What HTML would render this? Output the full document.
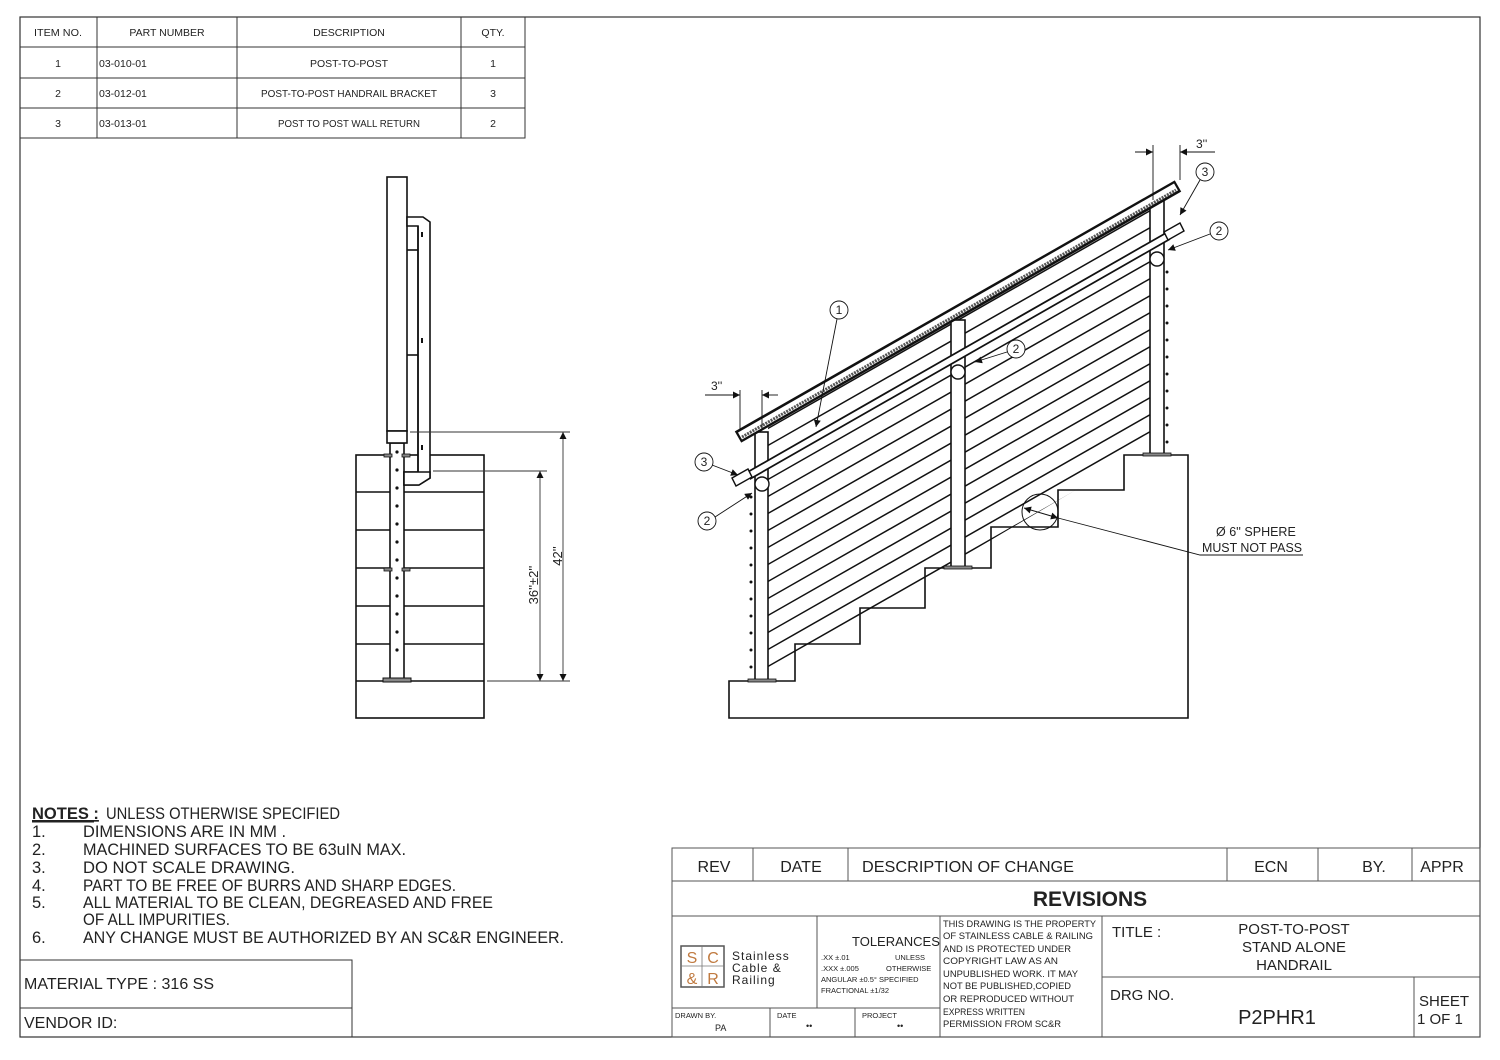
<!DOCTYPE html>
<html><head><meta charset="utf-8"><style>
html,body{margin:0;padding:0;background:#fff;}
svg{display:block;}
text{font-family:"Liberation Sans",sans-serif;fill:#222;}
</style></head><body>
<svg width="1500" height="1060" viewBox="0 0 1500 1060" xmlns="http://www.w3.org/2000/svg">
<defs>
<marker id="ar" viewBox="0 0 10 10" refX="10" refY="5" markerWidth="9" markerHeight="7" orient="auto-start-reverse" markerUnits="userSpaceOnUse"><path d="M0,0 L10,5 L0,10 z" fill="#111"/></marker>
<clipPath id="cab"><polygon points="768,418 1150,200 1150,446 768,672"/></clipPath>
</defs>
<rect x="0" y="0" width="1500" height="1060" fill="#fff"/>
<rect x="20" y="17" width="1460" height="1020" fill="none" stroke="#333" stroke-width="1.2"/>

<g stroke="#333" stroke-width="1" fill="none">
<rect x="20" y="17" width="505" height="121"/>
<line x1="20" y1="47" x2="525" y2="47"/><line x1="20" y1="78" x2="525" y2="78"/><line x1="20" y1="108" x2="525" y2="108"/>
<line x1="97" y1="17" x2="97" y2="138"/><line x1="237" y1="17" x2="237" y2="138"/><line x1="461" y1="17" x2="461" y2="138"/>
</g>
<g font-size="10.5">
<text x="58" y="36" text-anchor="middle" textLength="48" lengthAdjust="spacingAndGlyphs">ITEM NO.</text>
<text x="167" y="36" text-anchor="middle">PART NUMBER</text>
<text x="349" y="36" text-anchor="middle">DESCRIPTION</text>
<text x="493" y="36" text-anchor="middle">QTY.</text>
<text x="58" y="67" text-anchor="middle">1</text><text x="99" y="67">03-010-01</text><text x="349" y="67" text-anchor="middle">POST-TO-POST</text><text x="493" y="67" text-anchor="middle">1</text>
<text x="58" y="97" text-anchor="middle">2</text><text x="99" y="97">03-012-01</text><text x="349" y="97" text-anchor="middle" textLength="176" lengthAdjust="spacingAndGlyphs">POST-TO-POST HANDRAIL BRACKET</text><text x="493" y="97" text-anchor="middle">3</text>
<text x="58" y="127" text-anchor="middle">3</text><text x="99" y="127">03-013-01</text><text x="349" y="127" text-anchor="middle" textLength="142" lengthAdjust="spacingAndGlyphs">POST TO POST WALL RETURN</text><text x="493" y="127" text-anchor="middle">2</text>
</g>

<g stroke="#111" stroke-width="1.6" fill="#fff">
<rect x="356" y="455" width="128" height="263"/>
<line x1="356" y1="492" x2="484" y2="492"/><line x1="356" y1="530" x2="484" y2="530"/><line x1="356" y1="568" x2="484" y2="568"/><line x1="356" y1="606" x2="484" y2="606"/><line x1="356" y1="644" x2="484" y2="644"/><line x1="356" y1="681" x2="484" y2="681"/>
<rect x="390" y="443" width="14" height="238"/>
<rect x="383" y="678" width="28" height="4" fill="#888" stroke-width="1"/>
<rect x="384" y="454" width="8" height="3" fill="#888" stroke-width="0.8"/><rect x="402" y="454" width="8" height="3" fill="#888" stroke-width="0.8"/>
<rect x="384" y="568" width="8" height="3" fill="#888" stroke-width="0.8"/><rect x="402" y="568" width="8" height="3" fill="#888" stroke-width="0.8"/>
<rect x="387" y="177" width="20" height="254"/>
<rect x="387" y="431" width="20" height="12"/>
<polygon points="407,217 423,217 430,222 430,478 419,485 404,485 404,472 418,472 418,226 407,226"/>
<line x1="418" y1="226" x2="418" y2="472"/>
<line x1="407" y1="250" x2="418" y2="250"/><line x1="407" y1="355" x2="418" y2="355"/>
<polygon points="404,472 430,472 430,478 419,485 404,485"/>
</g>
<g fill="#111">
<rect x="421" y="232" width="2" height="5"/><rect x="421" y="338" width="2" height="5"/><rect x="421" y="445" width="2" height="5"/>
<circle cx="397" cy="452" r="1.6"/><circle cx="397" cy="470" r="1.6"/><circle cx="397" cy="488" r="1.6"/><circle cx="397" cy="506" r="1.6"/><circle cx="397" cy="524" r="1.6"/><circle cx="397" cy="542" r="1.6"/><circle cx="397" cy="560" r="1.6"/><circle cx="397" cy="578" r="1.6"/><circle cx="397" cy="596" r="1.6"/><circle cx="397" cy="614" r="1.6"/><circle cx="397" cy="632" r="1.6"/><circle cx="397" cy="650" r="1.6"/>
</g>
<g stroke="#333" stroke-width="0.9" fill="none">
<line x1="410" y1="432" x2="570" y2="432"/><line x1="433" y1="471" x2="547" y2="471"/><line x1="487" y1="681" x2="570" y2="681"/>
<line x1="563" y1="432" x2="563" y2="681" marker-start="url(#ar)" marker-end="url(#ar)"/>
<line x1="540" y1="471" x2="540" y2="681" marker-start="url(#ar)" marker-end="url(#ar)"/>
</g>
<text transform="translate(538,585) rotate(-90)" font-size="13" text-anchor="middle">36''±2''</text>
<text transform="translate(562,556) rotate(-90)" font-size="13" text-anchor="middle">42''</text>

<polygon points="729,681 795,681 795,644 860,644 860,608 925,608 925,568 991,568 991,527 1058,527 1058,490 1124,490 1124,455 1188,455 1188,718 729,718" fill="#fff" stroke="#111" stroke-width="1.6"/>
<g clip-path="url(#cab)" stroke="#111" stroke-width="1.5">
<line x1="760" y1="450" x2="1160" y2="222"/><line x1="760" y1="467" x2="1160" y2="239"/><line x1="760" y1="484" x2="1160" y2="256"/><line x1="760" y1="501" x2="1160" y2="273"/><line x1="760" y1="518" x2="1160" y2="290"/><line x1="760" y1="535" x2="1160" y2="307"/><line x1="760" y1="552" x2="1160" y2="324"/><line x1="760" y1="569" x2="1160" y2="341"/><line x1="760" y1="586" x2="1160" y2="358"/><line x1="760" y1="603" x2="1160" y2="375"/><line x1="760" y1="620" x2="1160" y2="392"/><line x1="760" y1="637" x2="1160" y2="409"/><line x1="760" y1="654" x2="1160" y2="426"/><line x1="760" y1="671" x2="1160" y2="443"/>
<line x1="760" y1="433" x2="1160" y2="205"/>
</g>
<g stroke="#111" stroke-width="1.6" fill="#fff">
<rect x="755" y="432" width="13" height="249"/>
<rect x="951" y="320" width="14" height="248"/>
<rect x="1150" y="200" width="14" height="255"/>
<rect x="748" y="679" width="28" height="3" fill="#888" stroke-width="0.8"/>
<rect x="944" y="566" width="28" height="3" fill="#888" stroke-width="0.8"/>
<rect x="1143" y="453" width="28" height="3" fill="#888" stroke-width="0.8"/>
</g>
<g fill="#111">
<circle cx="751" cy="497" r="1.5"/><circle cx="751" cy="514" r="1.5"/><circle cx="751" cy="531" r="1.5"/><circle cx="751" cy="548" r="1.5"/><circle cx="751" cy="565" r="1.5"/><circle cx="751" cy="582" r="1.5"/><circle cx="751" cy="599" r="1.5"/><circle cx="751" cy="616" r="1.5"/><circle cx="751" cy="633" r="1.5"/><circle cx="751" cy="650" r="1.5"/><circle cx="751" cy="667" r="1.5"/>
<circle cx="1167" cy="272" r="1.5"/><circle cx="1167" cy="289" r="1.5"/><circle cx="1167" cy="306" r="1.5"/><circle cx="1167" cy="323" r="1.5"/><circle cx="1167" cy="340" r="1.5"/><circle cx="1167" cy="357" r="1.5"/><circle cx="1167" cy="374" r="1.5"/><circle cx="1167" cy="391" r="1.5"/><circle cx="1167" cy="408" r="1.5"/><circle cx="1167" cy="425" r="1.5"/><circle cx="1167" cy="442" r="1.5"/>
</g>
<line x1="738" y1="437" x2="1178" y2="186" stroke="#111" stroke-width="13"/>
<line x1="740" y1="436" x2="1176" y2="187" stroke="#fff" stroke-width="8"/>
<line x1="742" y1="437" x2="1176" y2="190" stroke="#555" stroke-width="3" stroke-dasharray="2 1"/>
<line x1="748" y1="476" x2="1168" y2="236" stroke="#111" stroke-width="9"/>
<line x1="748" y1="476" x2="1168" y2="236" stroke="#fff" stroke-width="5.5"/>
<g stroke="#111" stroke-width="1.4" fill="#fff">
<polygon points="732,478 748,469 752,477 736,486"/>
<polygon points="1164,232 1180,223 1184,231 1168,240"/>
<circle cx="762" cy="484" r="7"/><circle cx="958" cy="372" r="7"/><circle cx="1157" cy="259" r="7"/>
</g>
<circle cx="1040" cy="512" r="18" fill="none" stroke="#111" stroke-width="1"/>
<line x1="1024" y1="508" x2="1058" y2="518" stroke="#111" stroke-width="1" marker-start="url(#ar)" marker-end="url(#ar)"/>
<polyline points="1058,518 1200,555 1303,555" fill="none" stroke="#111" stroke-width="0.9"/>
<text x="1216" y="536" font-size="12.5">Ø 6'' SPHERE</text>
<text x="1202" y="552" font-size="12.5" textLength="100" lengthAdjust="spacingAndGlyphs">MUST NOT PASS</text>
<g stroke="#111" stroke-width="0.9" fill="none">
<line x1="1153" y1="145" x2="1153" y2="200"/><line x1="1180" y1="145" x2="1180" y2="180"/>
<line x1="1135" y1="152" x2="1153" y2="152" marker-end="url(#ar)"/><line x1="1198" y1="152" x2="1180" y2="152" marker-end="url(#ar)"/><line x1="1198" y1="152" x2="1215" y2="152"/>
<line x1="740" y1="390" x2="740" y2="430"/><line x1="762" y1="390" x2="762" y2="430"/>
<line x1="705" y1="395" x2="740" y2="395"/><line x1="722" y1="395" x2="740" y2="395" marker-end="url(#ar)"/><line x1="778" y1="395" x2="762" y2="395" marker-end="url(#ar)"/>
</g>
<text x="1196" y="148" font-size="12">3''</text>
<text x="711" y="390" font-size="12">3''</text>
<g stroke="#111" stroke-width="0.9" fill="#fff">
<line x1="837" y1="319" x2="816" y2="427" marker-end="url(#ar)"/>
<line x1="1200" y1="180" x2="1180" y2="215" marker-end="url(#ar)"/>
<line x1="1210" y1="234" x2="1168" y2="250" marker-end="url(#ar)"/>
<line x1="1007" y1="352" x2="975" y2="362" marker-end="url(#ar)"/>
<line x1="712" y1="465" x2="738" y2="475" marker-end="url(#ar)"/>
<line x1="715" y1="517" x2="752" y2="493" marker-end="url(#ar)"/>
<circle cx="839" cy="310" r="9"/><circle cx="1205" cy="172" r="9"/><circle cx="1219" cy="231" r="9"/><circle cx="1016" cy="349" r="9"/><circle cx="704" cy="462" r="9"/><circle cx="707" cy="521" r="9"/>
</g>
<g font-size="12" text-anchor="middle">
<text x="839" y="314">1</text><text x="1205" y="176">3</text><text x="1219" y="235">2</text><text x="1016" y="353">2</text><text x="704" y="466">3</text><text x="707" y="525">2</text>
</g>

<g font-size="16.5">
<text x="32" y="819" font-weight="bold" text-decoration="underline">NOTES :</text>
<text x="106" y="819" textLength="234" lengthAdjust="spacingAndGlyphs">UNLESS OTHERWISE SPECIFIED</text>
<line x1="32" y1="822" x2="94" y2="822" stroke="#222" stroke-width="1"/>
<text x="32" y="837">1.</text><text x="83" y="837" textLength="203" lengthAdjust="spacingAndGlyphs">DIMENSIONS ARE IN MM .</text>
<text x="32" y="855">2.</text><text x="83" y="855" textLength="323" lengthAdjust="spacingAndGlyphs">MACHINED SURFACES TO BE 63uIN MAX.</text>
<text x="32" y="873">3.</text><text x="83" y="873" textLength="212" lengthAdjust="spacingAndGlyphs">DO NOT SCALE DRAWING.</text>
<text x="32" y="891">4.</text><text x="83" y="891" textLength="373" lengthAdjust="spacingAndGlyphs">PART TO BE FREE OF BURRS AND SHARP EDGES.</text>
<text x="32" y="908">5.</text><text x="83" y="908" textLength="410" lengthAdjust="spacingAndGlyphs">ALL MATERIAL TO BE CLEAN, DEGREASED AND FREE</text>
<text x="83" y="925" textLength="147" lengthAdjust="spacingAndGlyphs">OF ALL IMPURITIES.</text>
<text x="32" y="943">6.</text><text x="83" y="943" textLength="481" lengthAdjust="spacingAndGlyphs">ANY CHANGE MUST BE AUTHORIZED BY AN SC&amp;R ENGINEER.</text>
</g>
<g stroke="#333" stroke-width="1" fill="none">
<rect x="20" y="960" width="332" height="77"/><line x1="20" y1="1008" x2="352" y2="1008"/>
</g>
<text x="24" y="989" font-size="16" textLength="190" lengthAdjust="spacingAndGlyphs">MATERIAL TYPE :  316 SS</text>
<text x="24" y="1028" font-size="16">VENDOR ID:</text>

<g stroke="#555" stroke-width="1" fill="none">
<rect x="672" y="848" width="808" height="189"/>
<line x1="672" y1="881" x2="1480" y2="881"/><line x1="672" y1="916" x2="1480" y2="916"/>
<line x1="753" y1="848" x2="753" y2="881"/><line x1="848" y1="848" x2="848" y2="881"/><line x1="1227" y1="848" x2="1227" y2="881"/><line x1="1318" y1="848" x2="1318" y2="881"/><line x1="1412" y1="848" x2="1412" y2="881"/>
<line x1="817" y1="916" x2="817" y2="1008"/><line x1="940" y1="916" x2="940" y2="1037"/><line x1="1102" y1="916" x2="1102" y2="1037"/>
<line x1="672" y1="1008" x2="940" y2="1008"/><line x1="770" y1="1008" x2="770" y2="1037"/><line x1="855" y1="1008" x2="855" y2="1037"/>
<line x1="1102" y1="977" x2="1480" y2="977"/><line x1="1414" y1="977" x2="1414" y2="1037"/>
</g>
<g font-size="16">
<text x="714" y="872" text-anchor="middle">REV</text>
<text x="801" y="872" text-anchor="middle">DATE</text>
<text x="862" y="872" textLength="212" lengthAdjust="spacingAndGlyphs">DESCRIPTION OF CHANGE</text>
<text x="1271" y="872" text-anchor="middle">ECN</text>
<text x="1374" y="872" text-anchor="middle">BY.</text>
<text x="1442" y="872" text-anchor="middle">APPR</text>
</g>
<text x="1090" y="906" font-size="21" font-weight="bold" text-anchor="middle">REVISIONS</text>
<rect x="681" y="946" width="43" height="41" fill="none" stroke="#555" stroke-width="1.5"/>
<line x1="702" y1="946" x2="702" y2="987" stroke="#777" stroke-width="0.8"/><line x1="681" y1="966" x2="724" y2="966" stroke="#777" stroke-width="0.8"/>
<g font-size="16" text-anchor="middle">
<text x="692" y="963" style="fill:#c07a40">S</text><text x="713" y="963" style="fill:#c07a40">C</text>
<text x="692" y="984" style="fill:#c07a40">&amp;</text><text x="713" y="984" style="fill:#c07a40">R</text>
</g>
<g font-size="12" letter-spacing="1">
<text x="732" y="960">Stainless</text><text x="732" y="972">Cable &amp;</text><text x="732" y="984">Railing</text>
</g>
<text x="852" y="946" font-size="13">TOLERANCES</text>
<g font-size="7.5">
<text x="821" y="960">.XX ±.01</text><text x="895" y="960">UNLESS</text>
<text x="821" y="971">.XXX ±.005</text><text x="886" y="971">OTHERWISE</text>
<text x="821" y="982">ANGULAR ±0.5° SPECIFIED</text>
<text x="821" y="993">FRACTIONAL ±1/32</text>
<text x="675" y="1018">DRAWN BY.</text><text x="777" y="1018">DATE</text><text x="862" y="1018">PROJECT</text>
</g>
<text x="715" y="1031" font-size="9">PA</text><text x="806" y="1029" font-size="9">••</text><text x="897" y="1029" font-size="9">••</text>
<g font-size="9.5">
<text x="943" y="927" textLength="153" lengthAdjust="spacingAndGlyphs">THIS DRAWING IS THE PROPERTY</text>
<text x="943" y="939" textLength="150" lengthAdjust="spacingAndGlyphs">OF STAINLESS CABLE &amp; RAILING</text>
<text x="943" y="952" textLength="128" lengthAdjust="spacingAndGlyphs">AND IS PROTECTED UNDER</text>
<text x="943" y="964" textLength="115" lengthAdjust="spacingAndGlyphs">COPYRIGHT LAW AS AN</text>
<text x="943" y="977" textLength="135" lengthAdjust="spacingAndGlyphs">UNPUBLISHED WORK. IT MAY</text>
<text x="943" y="989" textLength="128" lengthAdjust="spacingAndGlyphs">NOT BE PUBLISHED,COPIED</text>
<text x="943" y="1002" textLength="131" lengthAdjust="spacingAndGlyphs">OR REPRODUCED WITHOUT</text>
<text x="943" y="1015" textLength="82" lengthAdjust="spacingAndGlyphs">EXPRESS WRITTEN</text>
<text x="943" y="1027" textLength="118" lengthAdjust="spacingAndGlyphs">PERMISSION FROM SC&amp;R</text>
</g>
<text x="1112" y="937" font-size="15">TITLE :</text>
<g font-size="15" text-anchor="middle">
<text x="1294" y="934">POST-TO-POST</text><text x="1294" y="952">STAND ALONE</text><text x="1294" y="970">HANDRAIL</text>
</g>
<text x="1110" y="1000" font-size="15">DRG NO.</text>
<text x="1277" y="1024" font-size="20" text-anchor="middle">P2PHR1</text>
<text x="1419" y="1006" font-size="15">SHEET</text><text x="1417" y="1024" font-size="15">1 OF 1</text>
</svg>
</body></html>
